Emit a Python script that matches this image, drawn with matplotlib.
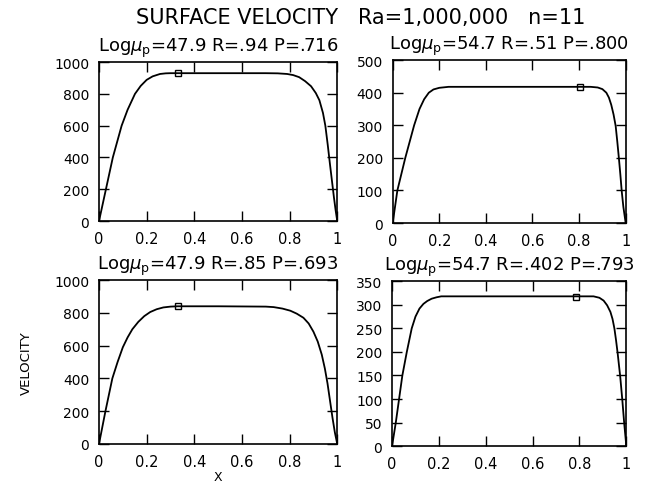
import numpy as np
import matplotlib.pyplot as plt

plt.rcParams['font.family'] = 'DejaVu Sans'
plt.rcParams['mathtext.fontset'] = 'dejavusans'

# surface velocity profiles
x_tl = [0, 0.029, 0.058, 0.095, 0.12, 0.151, 0.175, 0.2, 0.225, 0.256, 0.28, 0.3,
        0.5, 0.7, 0.75, 0.79, 0.815, 0.84, 0.865, 0.89, 0.91, 0.925, 0.94, 0.95,
        0.96, 0.97, 0.978, 0.986, 0.993, 1.0]
v_tl = [0, 200, 400, 600, 700, 800, 850, 888, 910, 925, 929, 930,
        930, 930, 929, 925, 918, 905, 880, 848, 805, 760, 680, 600,
        480, 350, 250, 150, 70, 0]

x_tr = [0, 0.02, 0.054, 0.092, 0.115, 0.135, 0.155, 0.175, 0.2, 0.24, 0.3,
        0.5, 0.7, 0.85, 0.88, 0.90, 0.917, 0.928, 0.938, 0.948, 0.957, 0.964,
        0.971, 0.977, 0.983, 0.99, 1.0]
v_tr = [0, 100, 200, 300, 350, 380, 400, 410, 415, 418, 418,
        418, 418, 418, 416, 411, 400, 385, 363, 333, 298, 250,
        198, 150, 98, 50, 0]

x_bl = [0, 0.027, 0.056, 0.078, 0.1, 0.12, 0.14, 0.165, 0.19, 0.215, 0.242, 0.27,
        0.3, 0.33, 0.5, 0.7, 0.733, 0.77, 0.803, 0.83, 0.858, 0.88, 0.90, 0.918,
        0.935, 0.948, 0.959, 0.97, 0.98, 0.99, 1.0]
v_bl = [0, 200, 400, 500, 590, 650, 700, 745, 780, 805, 822, 833,
        838, 840, 840, 838, 835, 826, 813, 795, 770, 735, 685, 625,
        545, 460, 370, 260, 160, 70, 0]

x_br = [0, 0.016, 0.030, 0.044, 0.063, 0.084, 0.1, 0.117, 0.134, 0.15, 0.169,
        0.19, 0.21, 0.4, 0.6, 0.86, 0.885, 0.903, 0.918, 0.932, 0.941, 0.949,
        0.956, 0.963, 0.974, 0.983, 0.991, 1.0]
v_br = [0, 50, 100, 150, 200, 250, 275, 292, 302, 308, 313,
        316, 318, 318, 318, 318, 315, 309, 299, 285, 270, 250,
        225, 197, 147, 97, 48, 0]

# open-square markers
mark_x = [0.333, 0.805, 0.33, 0.786]
mark_v = [930, 416, 840, 317]

titles = [r'Log$\mu_{\rm p}$=47.9 R=.94 P=.716',
          r'Log$\mu_{\rm p}$=54.7 R=.51 P=.800',
          r'Log$\mu_{\rm p}$=47.9 R=.85 P=.693',
          r'Log$\mu_{\rm p}$=54.7 R=.402 P=.793']
ymax = [1000, 500, 1000, 350]
ystep = [200, 100, 200, 50]
xticks = [0, 0.2, 0.4, 0.6, 0.8, 1.0]
xticklabels = ['0', '0.2', '0.4', '0.6', '0.8', '1']

fig = plt.figure(figsize=(6.6, 4.85), dpi=100)

rects = [[0.150, 0.542, 0.361, 0.328],
         [0.595, 0.538, 0.353, 0.336],
         [0.150, 0.0825, 0.361, 0.338],
         [0.594, 0.078, 0.355, 0.340]]
curves = [(x_tl, v_tl), (x_tr, v_tr), (x_bl, v_bl), (x_br, v_br)]

for i, rect in enumerate(rects):
    ax = fig.add_axes(rect)
    xs, vs = curves[i]
    ax.plot(xs, vs, color='black', lw=1.3)
    ax.plot(mark_x[i], mark_v[i], marker='s', ms=5, mfc='none', mec='black', mew=1)
    ax.set_xlim(0, 1)
    ax.set_ylim(0, ymax[i])
    ax.set_xticks(xticks)
    ax.set_xticklabels(xticklabels)
    ax.set_yticks(np.arange(0, ymax[i] + 1, ystep[i]))
    ax.tick_params(direction='in', top=True, right=True, length=7, width=1, pad=7)
    ax.tick_params(axis='y', labelsize=10)
    ax.tick_params(axis='x', labelsize=10.5)
    for s in ax.spines.values():
        s.set_linewidth(1.2)
    ax.set_title(titles[i], fontsize=13, pad=8)

ax_bl = fig.axes[2]
ax_bl.set_xlabel('X', fontsize=9, labelpad=1)
ax_bl.set_ylabel('VELOCITY', fontsize=9.5, labelpad=15)

fig.text(0.547, 0.963, 'SURFACE VELOCITY   Ra=1,000,000   n=11',
         ha='center', va='center', fontsize=15)

fig.savefig('out.png', dpi=100)
